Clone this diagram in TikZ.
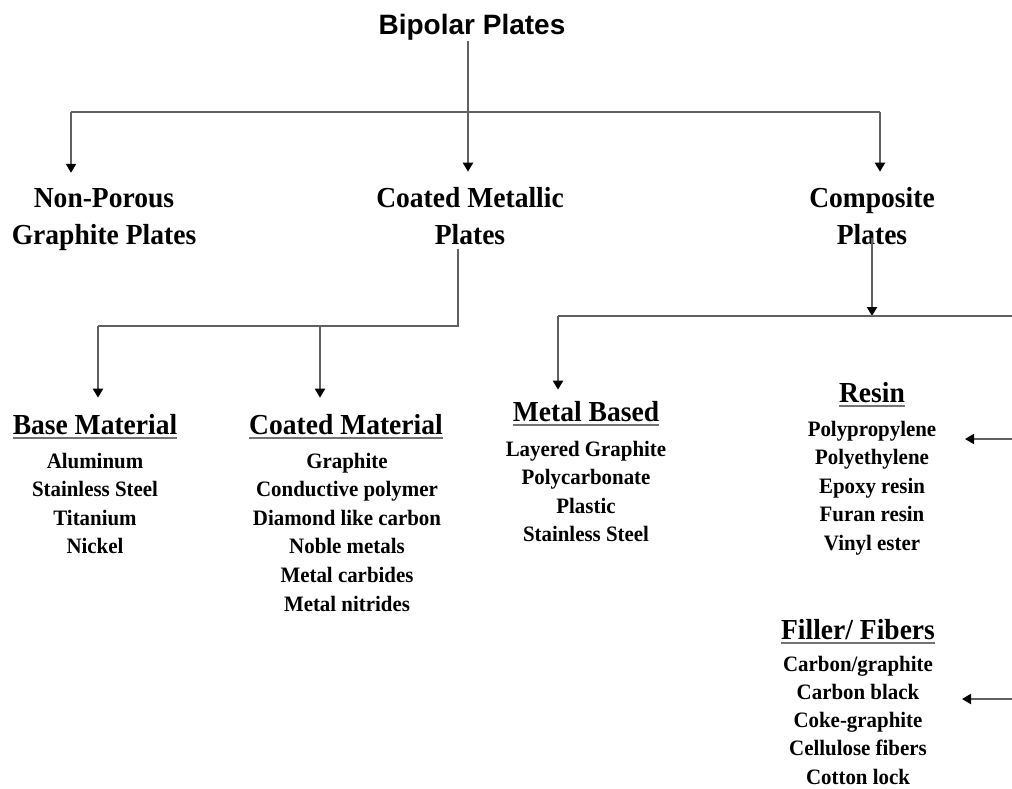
\documentclass[tikz,border=0pt]{standalone}
\usepackage{fontspec}
\setmainfont{Liberation Serif}
\newfontfamily\titlefont{Liberation Sans}
\newfontfamily\platefont{Liberation Serif}[FakeStretch=0.95]
\usetikzlibrary{arrows.meta}
\tikzset{
    link/.style={draw=black!62, line width=2pt}, % plain connector
    arr/.style={link, -{Triangle[width=10pt, length=9pt, color=black]}}, % connector with a head
    toptitle/.style={font=\titlefont\bfseries\fontsize{28}{34}\selectfont, inner sep=0pt, anchor=base},
    branch/.style={font=\platefont\bfseries\fontsize{29}{37}\selectfont, align=center, inner sep=0pt, anchor=base},
    listhead/.style={font=\platefont\bfseries\fontsize{29}{35}\selectfont, inner sep=0pt, anchor=base},
    listitem/.style={font=\platefont\bfseries\fontsize{22}{28}\selectfont, inner sep=0pt, anchor=base},
    uline/.style={draw=black!55, line width=2pt} % underline of the list heads
}
\def\rowgap{28.6}

\begin{document}
\begin{tikzpicture}[x=1pt, y=-1pt]
    \useasboundingbox (0,0) rectangle (1012,789);

    % top level (base of a two-line node is its last line)
    \node[toptitle] (bipolar) at (472,35) {Bipolar Plates};
    \node[branch] (nonporous) at (104,244) {Non-Porous\\Graphite Plates};
    \node[branch] (coated) at (470,244) {Coated Metallic\\Plates};
    \node[branch] (composite) at (872,244) {Composite\\Plates};

    \coordinate (barL) at (71,112);
    \coordinate (trunk) at (468,112);
    \coordinate (barR) at (880,112);
    \draw[link] (bipolar.south -| trunk) -- (trunk);
    \draw[link] (barL) -- (barR);
    \draw[arr, shorten >=15pt] (barL) -- (barL |- nonporous.north);
    \draw[arr, shorten >=15pt] (trunk) -- (trunk |- coated.north);
    \draw[arr, shorten >=15pt] (barR) -- (barR |- composite.north);

    % coated metallic plates
    \node[listhead] (basehead) at (95,434) {Base Material};
    \foreach \txt [count=\i] in {Aluminum, Stainless Steel, Titanium, Nickel}
        {\node[listitem] (base\i) at (95,468-\rowgap+\rowgap*\i) {\txt};}
    \node[listhead] (coathead) at (346,434) {Coated Material};
    \foreach \txt [count=\i] in {Graphite, Conductive polymer, Diamond like carbon, Noble metals, Metal carbides, Metal nitrides}
        {\node[listitem] (coat\i) at (347,468-\rowgap+\rowgap*\i) {\txt};}

    \coordinate (cmjoint) at (458,326);
    \coordinate (cmL) at (98,326);
    \coordinate (cmR) at (320,326);
    \draw[link] ([yshift=-5pt]coated.south -| cmjoint) -- (cmjoint) -- (cmL);
    \draw[arr, shorten >=16pt] (cmL) -- (cmL |- basehead.north);
    \draw[arr, shorten >=16pt] (cmR) -- (cmR |- coathead.north);

    % composite plates
    \node[listhead] (metalhead) at (586,421) {Metal Based};
    \foreach \txt [count=\i] in {Layered Graphite, Polycarbonate, Plastic, Stainless Steel}
        {\node[listitem] (metal\i) at (586,456-\rowgap+\rowgap*\i) {\txt};}
    \node[listhead] (resinhead) at (872,402) {Resin};
    \foreach \txt [count=\i] in {Polypropylene, Polyethylene, Epoxy resin, Furan resin, Vinyl ester}
        {\node[listitem] (resin\i) at (872,436-\rowgap+\rowgap*\i) {\txt};}
    \node[listhead] (fillhead) at (858,639) {Filler/ Fibers};
    \foreach \txt [count=\i] in {Carbon/graphite, Carbon black, Coke-graphite, Cellulose fibers, Cotton lock}
        {\node[listitem] (fill\i) at (858,671-28.3+28.3*\i) {\txt};}

    \coordinate (cpjoint) at (872,316);
    \coordinate (cpL) at (558,316);
    \coordinate (cpedge) at (1012,316);
    \draw[arr] ([yshift=6pt]composite.south -| cpjoint) -- (cpjoint);
    \draw[link] (cpL) -- (cpedge);
    \draw[arr, shorten >=11pt] (cpL) -- (cpL |- metalhead.north);

    \coordinate (resinin) at (1012,439);
    \coordinate (resintip) at (965,439);
    \coordinate (fillin) at (1012,699);
    \coordinate (filltip) at (962,699);
    \draw[arr] (resinin) -- (resintip);
    \draw[arr] (fillin) -- (filltip);

    % underlines
    \foreach \h in {basehead, coathead, metalhead, resinhead, fillhead}
        {\draw[uline] ([yshift=-4pt]\h.base west) -- ([yshift=-4pt]\h.base east);}
\end{tikzpicture}
\end{document}
